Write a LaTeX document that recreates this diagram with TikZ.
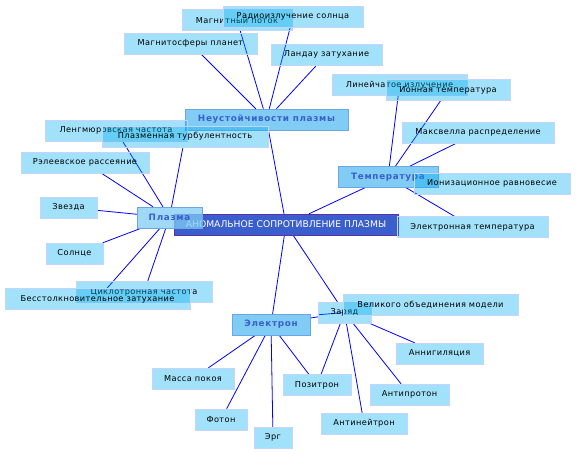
\documentclass[tikz,border=0pt]{standalone}
\usepackage{fontspec}
\setmainfont{DejaVu Sans}
\usepackage{tikz}
\usetikzlibrary{backgrounds}
\definecolor{rootfill}{HTML}{3A5FCD}
\definecolor{rootdraw}{HTML}{5B2FB0}
\definecolor{hubfill}{HTML}{80CCF5}
\definecolor{hubdraw}{HTML}{6CA6E6}
\definecolor{hubtext}{HTML}{3A5FCD}
\definecolor{leafdraw}{HTML}{C4D4FF}
\tikzset{root/.style = {shape = rectangle, draw = rootdraw, fill = rootfill, text = white, minimum width = #1, minimum height = 21, inner sep = 0, font = \fontsize{9.2}{10}\selectfont}}
\tikzset{hub/.style = {shape = rectangle, draw = hubdraw, fill = hubfill, text = hubtext, minimum width = #1, minimum height = 21, inner sep = 0, font = \fontsize{8.8}{10}\selectfont\bfseries\addfontfeatures{LetterSpace=8}}}
\tikzset{leaf/.style = {shape = rectangle, draw = leafdraw, fill = cyan, fill opacity = 0.37, text opacity = 1, minimum width = #1, minimum height = 21, inner sep = 0, font = \fontsize{8.2}{9}\selectfont\addfontfeatures{LetterSpace=5}}}
\tikzset{edge/.style = {-, draw = blue, line width = 0.8pt}}

\begin{document}
\begin{tikzpicture}[x = 1pt, y = -1pt]
	\useasboundingbox (0, 0) rectangle (576, 454);

	\node[root = 224] (anom) at (286, 224.5) {АНОМАЛЬНОЕ СОПРОТИВЛЕНИЕ ПЛАЗМЫ};

	\node[hub = 163] (neust) at (266.5, 119.5) {Неустойчивости плазмы};
	\node[hub = 100] (temp) at (388, 177) {Температура};
	\node[hub = 65, fill opacity = 0.75, text opacity = 1] (plazma) at (169.5, 217.5) {Плазма};
	\node[hub = 78] (elektr) at (271, 324.5) {Электрон};

	\node[leaf = 110] (mpotok) at (237, 20) {Магнитный поток};
	\node[leaf = 140] (radio) at (293, 16.5) {Радиоизлучение солнца};
	\node[leaf = 133] (msfera) at (190.5, 43.5) {Магнитосферы планет};
	\node[leaf = 111] (landau) at (326.5, 54.5) {Ландау затухание};

	\node[leaf = 142] (lengm) at (116, 130.5) {Ленгмюровская частота};
	\node[leaf = 166] (turb) at (185, 136.5) {Плазменная турбулентность};
	\node[leaf = 128] (rayl) at (85, 162.5) {Рэлеевское рассеяние};
	\node[leaf = 57] (zvezda) at (68.5, 207.5) {Звезда};
	\node[leaf = 57] (solnce) at (74.5, 253.5) {Солнце};
	\node[leaf = 136] (cyclo) at (144, 292) {Циклотронная частота};
	\node[leaf = 185] (bess) at (97.5, 299) {Бесстолкновительное затухание};

	\node[leaf = 135] (lin) at (399.5, 85) {Линейчатое излучение};
	\node[leaf = 124] (iontemp) at (448, 90) {Ионная температура};
	\node[leaf = 152] (maxw) at (478, 132.5) {Максвелла распределение};
	\node[leaf = 156] (ioniz) at (492, 183.5) {Ионизационное равновесие};
	\node[leaf = 151] (eltemp) at (472.5, 227) {Электронная температура};

	\node[leaf = 82] (massa) at (193, 378.5) {Масса покоя};
	\node[leaf = 52] (foton) at (221, 419.5) {Фотон};
	\node[leaf = 38] (erg) at (273, 437.5) {Эрг};
	\node[leaf = 68] (pozit) at (317, 385) {Позитрон};

	\node[leaf = 53] (zaryad) at (344.5, 312.5) {Заряд};
	\node[leaf = 175] (velik) at (430.5, 305) {Великого объединения модели};
	\node[leaf = 87] (annig) at (439.5, 353.5) {Аннигиляция};
	\node[leaf = 79] (antip) at (409.5, 394.5) {Антипротон};
	\node[leaf = 86] (antin) at (364, 423.5) {Антинейтрон};

	\begin{scope}[on background layer]
		\draw[edge] (anom) to (neust);
		\draw[edge] (anom) to (temp);
		\draw[edge] (anom) to (plazma);
		\draw[edge] (anom) to (elektr);
		\draw[edge] (anom) to (zaryad);

		\draw[edge] (neust) to (mpotok);
		\draw[edge] (neust) to (radio);
		\draw[edge] (neust) to (msfera);
		\draw[edge] (neust) to (landau);

		\draw[edge] (plazma) to (lengm);
		\draw[edge] (plazma) to (turb);
		\draw[edge] (plazma) to (rayl);
		\draw[edge] (plazma) to (zvezda);
		\draw[edge] (plazma) to (solnce);
		\draw[edge] (plazma) to (cyclo);
		\draw[edge] (plazma) to (bess);

		\draw[edge] (temp) to (lin);
		\draw[edge] (temp) to (iontemp);
		\draw[edge] (temp) to (maxw);
		\draw[edge] (temp) to (ioniz);
		\draw[edge] (temp) to (eltemp);

		\draw[edge] (elektr) to (massa);
		\draw[edge] (elektr) to (foton);
		\draw[edge] (elektr) to (erg);
		\draw[edge] (elektr) to (pozit);
		\draw[edge] (elektr) to (zaryad);

		\draw[edge] (zaryad) to (pozit);
		\draw[edge] (zaryad) to (velik);
		\draw[edge] (zaryad) to (annig);
		\draw[edge] (zaryad) to (antip);
		\draw[edge] (zaryad) to (antin);
	\end{scope}
\end{tikzpicture}
\end{document}
